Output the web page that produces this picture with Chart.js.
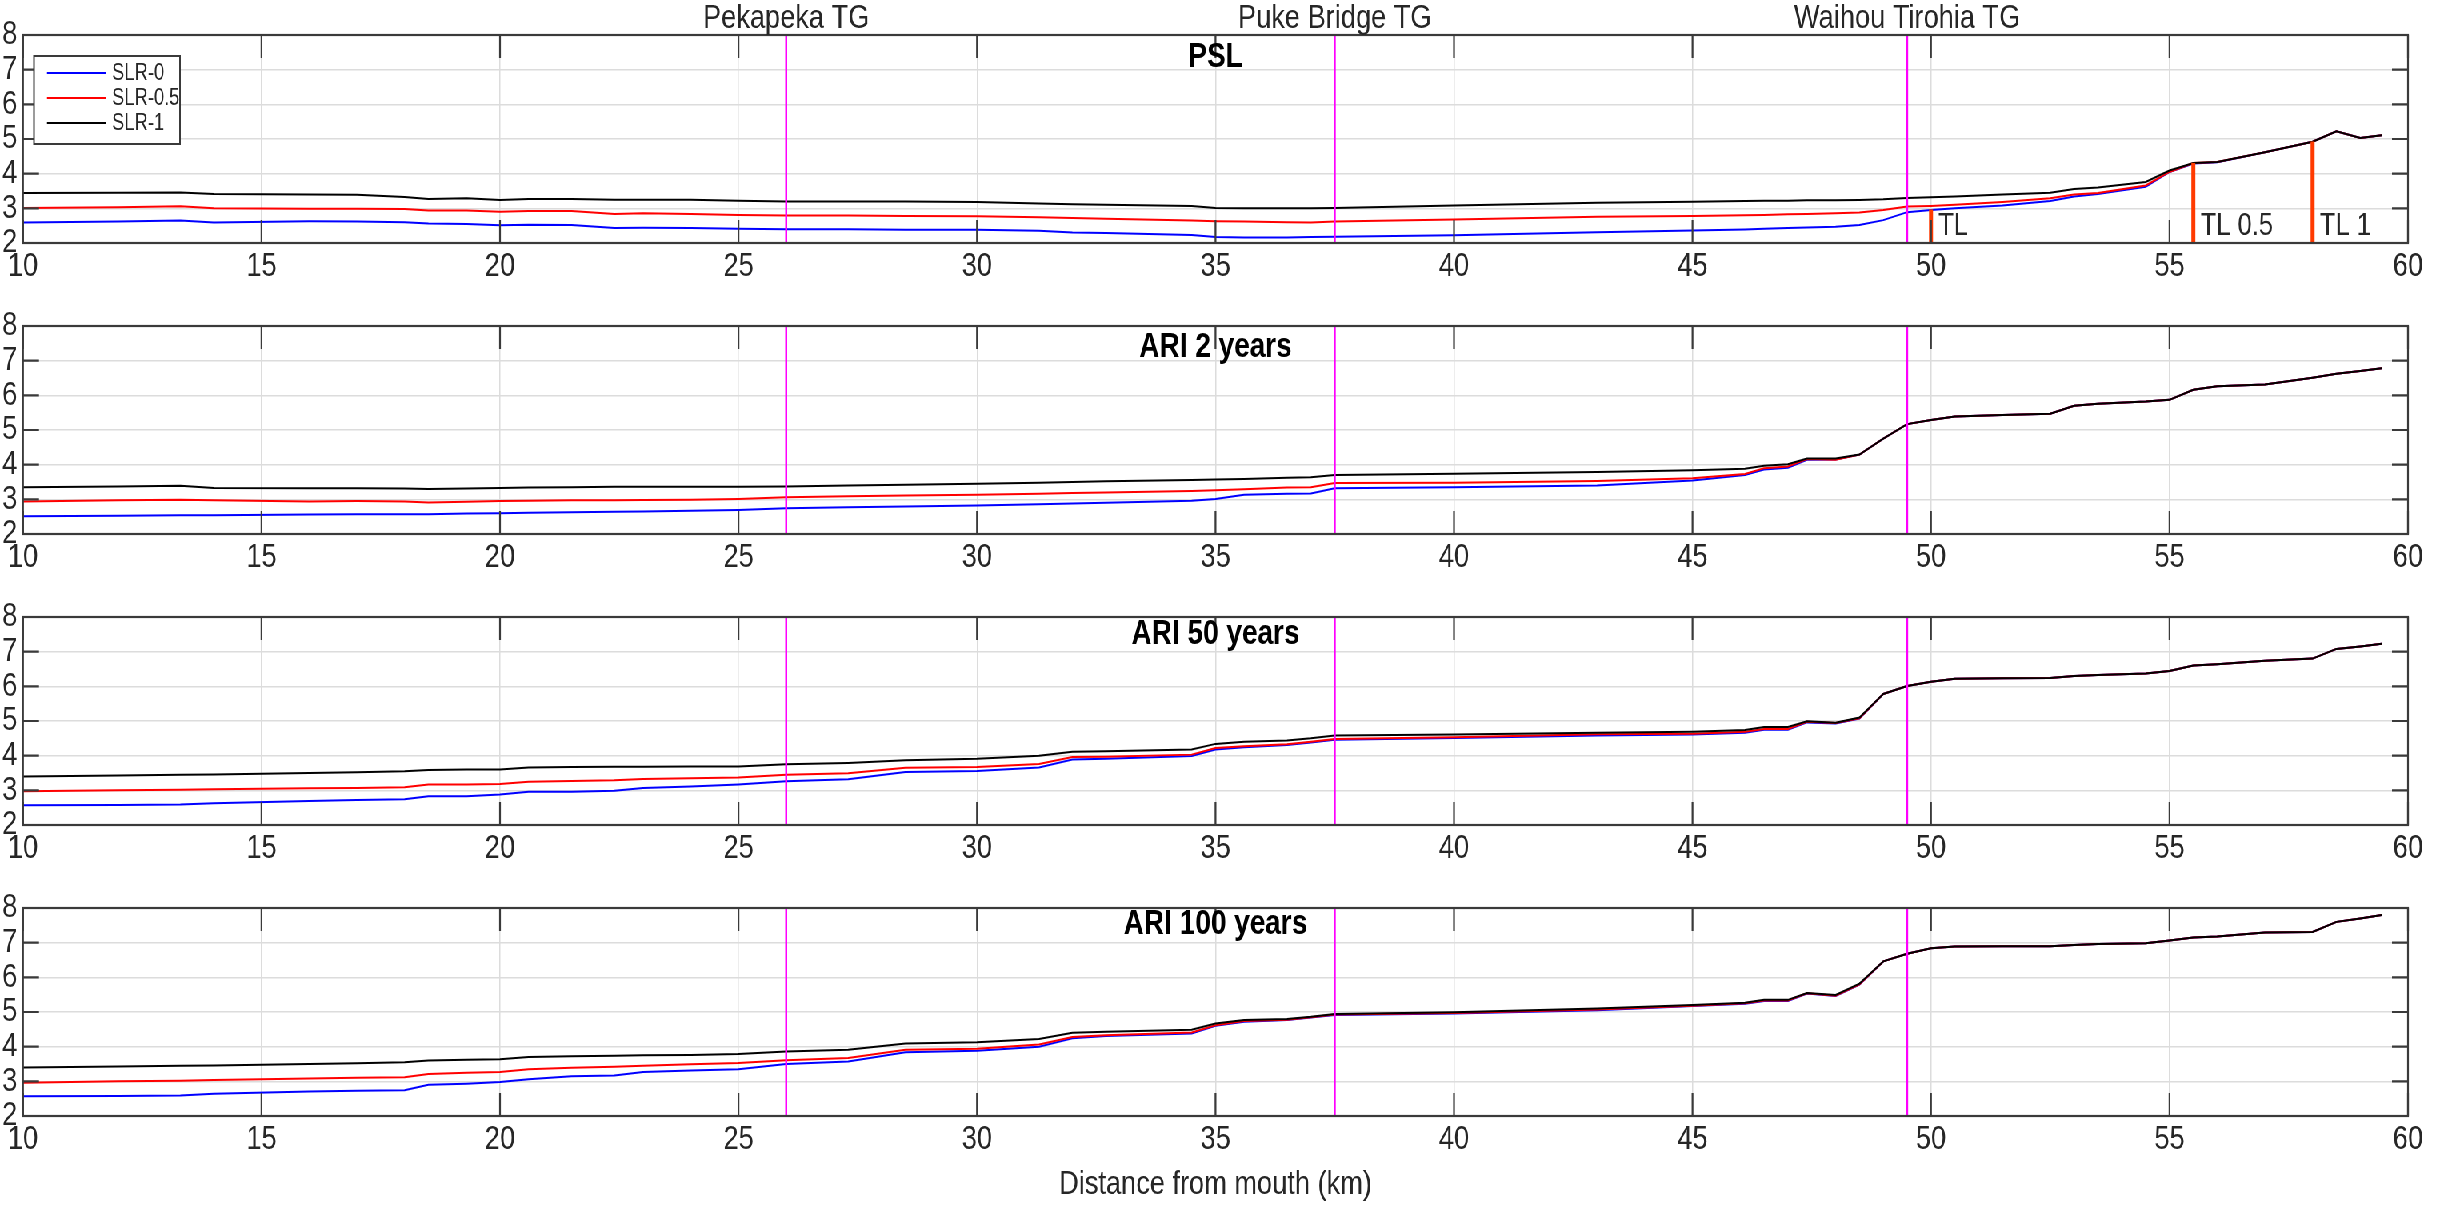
<!DOCTYPE html>
<html>
<head>
<meta charset="utf-8">
<script src="https://cdn.jsdelivr.net/npm/chart.js@4.4.1/dist/chart.umd.min.js"></script>
<style>
  body { margin: 0; background: #fff; width: 2447px; height: 1205px; position: relative; overflow: hidden; }
  /* figure is laid out wide and squeezed horizontally so the Helvetica-like text comes out condensed */
  #fig { position: absolute; left: 0; top: 0; width: 3059px; height: 1205px; transform: scaleX(0.8); transform-origin: 0 0; }
  canvas { position: absolute; left: 0; }
</style>
</head>
<body>
<div id="fig">
<canvas id="c0"></canvas>
<canvas id="c1"></canvas>
<canvas id="c2"></canvas>
<canvas id="c3"></canvas>
</div>
<script>
// distance from mouth (km)
const distKm = [10, 12, 13.3, 14, 16, 17, 18, 18.5, 19.3, 20, 20.6, 21.5, 22.4, 23, 24, 25, 26, 27.3, 28.5, 30,
  31.3, 32, 32.7, 34.5, 35, 35.6, 36.5, 37, 37.5, 40, 43, 45, 46.1, 46.5, 47, 47.4, 48, 48.5, 49, 49.5,
  50, 50.5, 51.5, 52.5, 53, 53.5, 54.5, 55, 55.5, 56, 57, 58, 58.5, 59, 59.45];

// water levels (m) per scenario
const pslSlr0 = [2.59, 2.62, 2.65, 2.59, 2.63, 2.62, 2.60, 2.56, 2.55, 2.51, 2.53, 2.52, 2.43, 2.44, 2.43, 2.41, 2.40, 2.40, 2.38, 2.38,
  2.35, 2.30, 2.29, 2.23, 2.17, 2.16, 2.16, 2.17, 2.18, 2.22, 2.31, 2.36, 2.39, 2.41, 2.43, 2.45, 2.47, 2.52, 2.66, 2.89,
  2.95, 3.00, 3.08, 3.21, 3.34, 3.41, 3.62, 4.05, 4.29, 4.33, 4.62, 4.92, 5.22, 5.03, 5.11];
const pslSlr05 = [3.01, 3.03, 3.06, 3.00, 2.99, 2.99, 2.98, 2.94, 2.94, 2.90, 2.92, 2.92, 2.84, 2.86, 2.84, 2.81, 2.79, 2.79, 2.78, 2.77,
  2.74, 2.72, 2.70, 2.65, 2.63, 2.62, 2.60, 2.59, 2.62, 2.68, 2.76, 2.78, 2.80, 2.81, 2.83, 2.84, 2.86, 2.88, 2.95, 3.05,
  3.07, 3.10, 3.18, 3.29, 3.40, 3.44, 3.66, 4.05, 4.31, 4.34, 4.62, 4.92, 5.22, 5.03, 5.11];
const pslSlr1 = [3.44, 3.45, 3.46, 3.41, 3.40, 3.39, 3.33, 3.27, 3.29, 3.24, 3.27, 3.27, 3.25, 3.25, 3.25, 3.22, 3.20, 3.20, 3.20, 3.18,
  3.14, 3.12, 3.10, 3.07, 3.01, 3.00, 3.00, 3.00, 3.01, 3.08, 3.16, 3.19, 3.21, 3.22, 3.22, 3.23, 3.23, 3.24, 3.26, 3.30,
  3.32, 3.34, 3.40, 3.45, 3.56, 3.60, 3.76, 4.09, 4.31, 4.34, 4.62, 4.92, 5.22, 5.03, 5.11];

const ari2Slr0 = [2.51, 2.53, 2.54, 2.54, 2.56, 2.57, 2.57, 2.57, 2.59, 2.60, 2.61, 2.63, 2.64, 2.65, 2.67, 2.69, 2.74, 2.77, 2.79, 2.82,
  2.86, 2.88, 2.90, 2.96, 3.01, 3.13, 3.16, 3.17, 3.32, 3.35, 3.40, 3.54, 3.70, 3.86, 3.91, 4.14, 4.15, 4.29, 4.75, 5.17,
  5.29, 5.39, 5.43, 5.47, 5.70, 5.76, 5.82, 5.87, 6.16, 6.26, 6.31, 6.51, 6.62, 6.70, 6.78];
const ari2Slr05 = [2.94, 2.97, 2.99, 2.97, 2.94, 2.95, 2.94, 2.91, 2.93, 2.95, 2.96, 2.97, 2.97, 2.98, 2.99, 3.01, 3.06, 3.09, 3.11, 3.13,
  3.16, 3.18, 3.20, 3.24, 3.26, 3.29, 3.34, 3.35, 3.47, 3.48, 3.53, 3.61, 3.73, 3.90, 3.95, 4.16, 4.14, 4.29, 4.75, 5.17,
  5.29, 5.39, 5.43, 5.47, 5.70, 5.76, 5.82, 5.87, 6.16, 6.26, 6.31, 6.51, 6.62, 6.70, 6.78];
const ari2Slr1 = [3.35, 3.37, 3.39, 3.33, 3.32, 3.32, 3.31, 3.30, 3.31, 3.33, 3.34, 3.35, 3.36, 3.36, 3.36, 3.36, 3.37, 3.40, 3.42, 3.45,
  3.48, 3.50, 3.52, 3.56, 3.57, 3.59, 3.62, 3.64, 3.70, 3.74, 3.79, 3.84, 3.88, 3.97, 4.01, 4.18, 4.18, 4.29, 4.75, 5.17,
  5.29, 5.39, 5.43, 5.47, 5.70, 5.76, 5.82, 5.87, 6.16, 6.26, 6.31, 6.51, 6.62, 6.70, 6.78];

const ari50Slr0 = [2.57, 2.58, 2.59, 2.63, 2.69, 2.72, 2.74, 2.83, 2.83, 2.88, 2.96, 2.96, 2.99, 3.07, 3.11, 3.17, 3.26, 3.32, 3.53, 3.56,
  3.66, 3.89, 3.91, 3.99, 4.18, 4.24, 4.31, 4.38, 4.46, 4.51, 4.58, 4.61, 4.66, 4.75, 4.75, 4.96, 4.93, 5.07, 5.78, 6.01,
  6.13, 6.22, 6.23, 6.24, 6.30, 6.33, 6.37, 6.44, 6.60, 6.64, 6.74, 6.80, 7.08, 7.15, 7.23];
const ari50Slr05 = [2.97, 3.00, 3.02, 3.03, 3.06, 3.07, 3.09, 3.17, 3.17, 3.18, 3.25, 3.27, 3.29, 3.33, 3.35, 3.37, 3.45, 3.49, 3.65, 3.67,
  3.76, 3.96, 3.97, 4.03, 4.22, 4.27, 4.33, 4.40, 4.48, 4.53, 4.62, 4.63, 4.69, 4.77, 4.77, 4.98, 4.94, 5.08, 5.78, 6.01,
  6.13, 6.22, 6.23, 6.24, 6.30, 6.33, 6.37, 6.44, 6.60, 6.64, 6.74, 6.80, 7.08, 7.15, 7.23];
const ari50Slr1 = [3.40, 3.43, 3.45, 3.46, 3.50, 3.52, 3.55, 3.59, 3.60, 3.60, 3.66, 3.67, 3.68, 3.68, 3.69, 3.69, 3.75, 3.79, 3.87, 3.91,
  4.00, 4.11, 4.13, 4.18, 4.34, 4.40, 4.44, 4.50, 4.58, 4.61, 4.66, 4.69, 4.74, 4.83, 4.83, 4.99, 4.95, 5.10, 5.78, 6.01,
  6.13, 6.22, 6.23, 6.24, 6.30, 6.33, 6.37, 6.44, 6.60, 6.64, 6.74, 6.80, 7.08, 7.15, 7.23];

const ari100Slr0 = [2.57, 2.58, 2.59, 2.64, 2.71, 2.73, 2.74, 2.90, 2.93, 2.98, 3.06, 3.15, 3.17, 3.27, 3.31, 3.35, 3.50, 3.57, 3.84, 3.88,
  4.00, 4.24, 4.31, 4.38, 4.60, 4.72, 4.77, 4.84, 4.91, 4.96, 5.05, 5.17, 5.24, 5.32, 5.32, 5.53, 5.46, 5.79, 6.46, 6.68,
  6.84, 6.89, 6.90, 6.90, 6.93, 6.96, 6.98, 7.06, 7.15, 7.18, 7.29, 7.31, 7.60, 7.70, 7.80];
const ari100Slr05 = [2.96, 3.00, 3.02, 3.04, 3.08, 3.10, 3.12, 3.21, 3.25, 3.27, 3.35, 3.39, 3.42, 3.45, 3.49, 3.53, 3.61, 3.67, 3.91, 3.94,
  4.06, 4.28, 4.33, 4.41, 4.62, 4.74, 4.78, 4.85, 4.93, 4.97, 5.07, 5.18, 5.25, 5.33, 5.33, 5.54, 5.47, 5.80, 6.46, 6.68,
  6.84, 6.89, 6.90, 6.90, 6.93, 6.96, 6.98, 7.06, 7.15, 7.18, 7.29, 7.31, 7.60, 7.70, 7.80];
const ari100Slr1 = [3.40, 3.43, 3.45, 3.46, 3.50, 3.52, 3.55, 3.60, 3.62, 3.64, 3.70, 3.72, 3.74, 3.75, 3.76, 3.79, 3.86, 3.91, 4.09, 4.13,
  4.22, 4.40, 4.43, 4.49, 4.67, 4.77, 4.80, 4.86, 4.94, 4.99, 5.10, 5.20, 5.27, 5.35, 5.35, 5.55, 5.49, 5.82, 6.46, 6.68,
  6.84, 6.89, 6.90, 6.90, 6.93, 6.96, 6.98, 7.06, 7.15, 7.18, 7.29, 7.31, 7.60, 7.70, 7.80];

const seriesNames = ["SLR-0", "SLR-0.5", "SLR-1"];
const seriesColors = ["#0000ff", "#ff0000", "#000000"];
const panelTitles = ["PSL", "ARI 2 years", "ARI 50 years", "ARI 100 years"];
const panelSeries = [
  [pslSlr0, pslSlr05, pslSlr1],
  [ari2Slr0, ari2Slr05, ari2Slr1],
  [ari50Slr0, ari50Slr05, ari50Slr1],
  [ari100Slr0, ari100Slr05, ari100Slr1],
];

// tide gauges
const stationKm = [26, 37.5, 49.5];
const stationNames = ["Pekapeka TG", "Puke Bridge TG", "Waihou Tirohia TG"];

// tidal limits (PSL panel only)
const tidalLimitKm = [50, 55.5, 58];
const tidalLimitLevel = [2.97, 4.31, 4.93];
const tidalLimitNames = ["TL", "TL 0.5", "TL 1"];

const FONT = "'Liberation Sans', Arial, Helvetica, sans-serif";
const INK = "#262626";

// horizontal squeeze applied by #fig; x lengths below are given in page px and divided by it
const SQ = 0.8;
const W = Math.round(2447 / SQ);
const PLOT_LEFT = 23 / SQ;
const PLOT_RIGHT = 2408 / SQ;
const PLOT_H = 208;
const TOP_PAD = 35;
const canvasTop = [0, 291, 582, 873];
const canvasH = [291, 291, 291, 332];
const titleOffset = [22, 21, 17, 16];

// frame, inward ticks, gauge lines, titles, legend
const matlabFrame = {
  id: "matlabFrame",
  afterDatasetsDraw(chart, args, opts) {
    const { ctx, chartArea: a, scales: { x, y } } = chart;
    ctx.save();

    ctx.strokeStyle = "#ff00ff";
    ctx.lineWidth = 2.5;
    stationKm.forEach((km) => {
      const px = x.getPixelForValue(km);
      ctx.beginPath();
      ctx.moveTo(px, a.top);
      ctx.lineTo(px, a.bottom);
      ctx.stroke();
    });

    if (opts.first) {
      ctx.strokeStyle = "#ff3a00";
      ctx.lineWidth = 5;
      ctx.fillStyle = INK;
      ctx.font = "32px " + FONT;
      ctx.textAlign = "left";
      ctx.textBaseline = "middle";
      tidalLimitKm.forEach((km, i) => {
        const px = x.getPixelForValue(km);
        ctx.beginPath();
        ctx.moveTo(px, a.bottom);
        ctx.lineTo(px, y.getPixelForValue(tidalLimitLevel[i]));
        ctx.stroke();
        ctx.fillText(tidalLimitNames[i], px + 9, y.getPixelForValue(2.48));
      });
    }

    // box + inward ticks
    ctx.strokeStyle = "#3a3a3a";
    ctx.lineWidth = 2.2;
    ctx.strokeRect(a.left, a.top, a.right - a.left, a.bottom - a.top);
    ctx.beginPath();
    x.ticks.forEach((t) => {
      const px = x.getPixelForValue(t.value);
      ctx.moveTo(px, a.bottom); ctx.lineTo(px, a.bottom - 23);
      ctx.moveTo(px, a.top); ctx.lineTo(px, a.top + 23);
    });
    y.ticks.forEach((t) => {
      const py = y.getPixelForValue(t.value);
      ctx.moveTo(a.left, py); ctx.lineTo(a.left + 16 / SQ, py);
      ctx.moveTo(a.right, py); ctx.lineTo(a.right - 16 / SQ, py);
    });
    ctx.stroke();

    ctx.fillStyle = "#000";
    ctx.font = "bold 35px " + FONT;
    ctx.textAlign = "center";
    ctx.textBaseline = "middle";
    ctx.fillText(opts.title, (a.left + a.right) / 2, a.top + opts.titleOffset);

    if (opts.first) {
      ctx.fillStyle = INK;
      ctx.font = "34px " + FONT;
      stationKm.forEach((km, i) => {
        ctx.fillText(stationNames[i], x.getPixelForValue(km), a.top - 16);
      });

      // legend, entries listed in series order
      const lx = a.left + 11 / SQ, ly = a.top + 21, lw = 146 / SQ, lh = 88;
      ctx.fillStyle = "#fff";
      ctx.fillRect(lx, ly, lw, lh);
      ctx.strokeStyle = "#3a3a3a";
      ctx.lineWidth = 2;
      ctx.strokeRect(lx, ly, lw, lh);
      ctx.font = "23px " + FONT;
      ctx.textAlign = "left";
      chart.data.datasets.forEach((ds, i) => {
        const ry = ly + 17 + i * 25;
        ctx.strokeStyle = ds.borderColor;
        ctx.lineWidth = 2;
        ctx.beginPath();
        ctx.moveTo(lx + 13 / SQ, ry);
        ctx.lineTo(lx + 72 / SQ, ry);
        ctx.stroke();
        ctx.fillStyle = INK;
        ctx.fillText(ds.label, lx + 78 / SQ, ry + 1);
      });
    }
    ctx.restore();
  },
};

panelSeries.forEach((series, p) => {
  const cv = document.getElementById("c" + p);
  cv.width = W;
  cv.height = canvasH[p];
  cv.style.top = canvasTop[p] + "px";
  const last = p === panelSeries.length - 1;

  new Chart(cv, {
    type: "line",
    data: {
      datasets: series.map((vals, i) => ({
        label: seriesNames[i],
        data: distKm.map((km, j) => ({ x: km, y: vals[j] })),
        borderColor: seriesColors[i],
        borderWidth: 2,
        pointRadius: 0,
        tension: 0,
        fill: false,
        // later series plotted on top (lowest order is drawn last)
        order: series.length - 1 - i,
      })),
    },
    options: {
      responsive: false,
      animation: false,
      layout: { padding: { top: TOP_PAD, left: 0, right: W - PLOT_RIGHT, bottom: 0 } },
      plugins: {
        legend: { display: false },
        tooltip: { enabled: false },
        matlabFrame: { title: panelTitles[p], titleOffset: titleOffset[p], first: p === 0 },
      },
      scales: {
        x: {
          type: "linear",
          min: 10,
          max: 60,
          ticks: { stepSize: 5, autoSkip: false, color: INK, padding: 3, font: { family: FONT, size: 34 }, maxRotation: 0 },
          grid: { color: "#dcdcdc", lineWidth: 1.5, drawTicks: false },
          border: { display: false },
          title: {
            display: last,
            text: "Distance from mouth (km)",
            color: INK,
            font: { family: FONT, size: 34 },
            padding: { top: 0, bottom: 0 },
          },
          afterFit: (s) => { s.height = canvasH[p] - TOP_PAD - PLOT_H; },
        },
        y: {
          min: 2,
          max: 8,
          ticks: { stepSize: 1, autoSkip: false, color: INK, padding: 7, font: { family: FONT, size: 34, lineHeight: 1 } },
          grid: { color: "#dcdcdc", lineWidth: 1.5, drawTicks: false },
          border: { display: false },
          afterFit: (s) => { s.width = PLOT_LEFT; },
        },
      },
    },
    plugins: [matlabFrame],
  });
});
</script>
</body>
</html>
